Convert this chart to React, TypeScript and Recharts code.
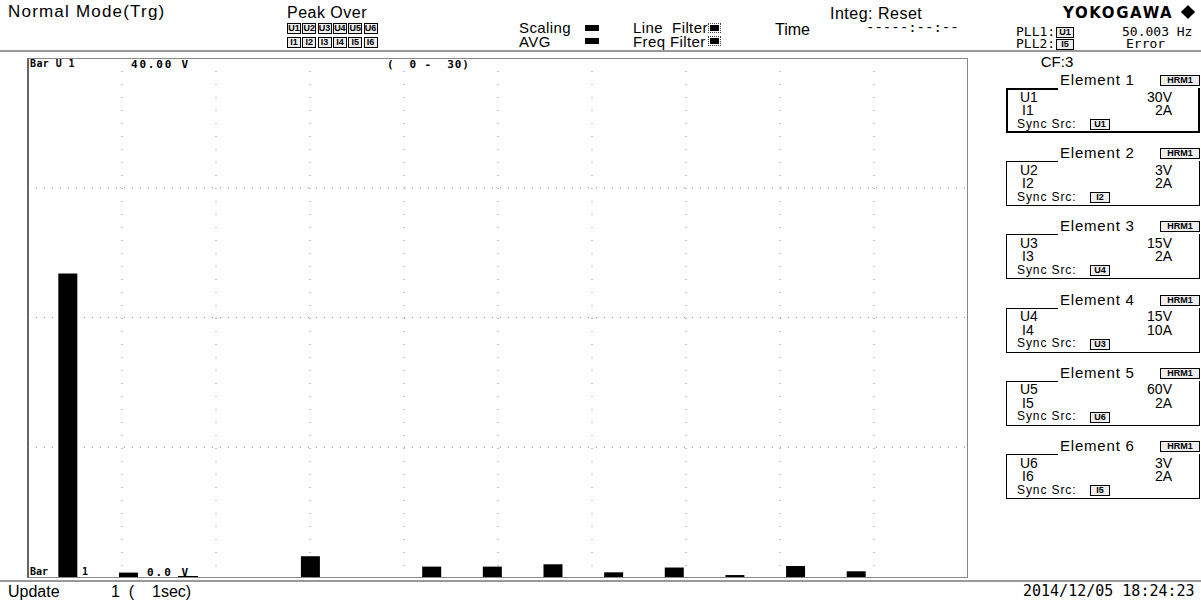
import React from 'react';
import { BarChart, Bar, XAxis, YAxis, CartesianGrid } from 'recharts';

// Harmonic orders shown (range 0 - 30)
const harmonicOrders = [0, 1, 2, 3, 4, 5, 6, 7, 8, 9, 10, 11, 12, 13, 14, 15, 16, 17, 18, 19, 20, 21, 22, 23, 24, 25, 26, 27, 28, 29, 30];
// U1 harmonic amplitude (V), full scale 40.00 V
const u1Values = [0, 23.4, 0, 0.34, 0, 0, 0, 0, 0, 1.6, 0, 0, 0, 0.8, 0, 0.8, 0, 0.98, 0, 0.36, 0, 0.73, 0, 0.15, 0, 0.85, 0, 0.44, 0, 0, 0];
const yDomain = [0, 40];
const yDivisions = [1, 2, 3];
const xDivisions = [1, 2, 3, 4, 5, 6, 7, 8, 9];

const elementNames = ['Element 1', 'Element 2', 'Element 3', 'Element 4', 'Element 5', 'Element 6'];
const voltageLabels = ['U1', 'U2', 'U3', 'U4', 'U5', 'U6'];
const currentLabels = ['I1', 'I2', 'I3', 'I4', 'I5', 'I6'];
const voltageRanges = ['30V', '3V', '15V', '15V', '60V', '3V'];
const currentRanges = ['2A', '2A', '2A', '10A', '2A', '2A'];
const syncSources = ['U1', 'I2', 'U4', 'U3', 'U6', 'I5'];

const data = harmonicOrders.map((o, i) => ({ order: o, u1: u1Values[i], pad: 0 }));

const SANS = '"Liberation Sans", Arial, sans-serif';
const MONO = '"DejaVu Sans Mono", "Liberation Mono", monospace';

type TP = { x: number; cy: number; size?: number; lh?: number; bold?: boolean; font?: string; ls?: number; center?: boolean; right?: boolean; children: React.ReactNode; style?: React.CSSProperties };
const T = ({ x, cy, size = 16, lh, bold, font = SANS, ls = 0, center, right, children, style }: TP) => {
  const l = lh ?? Math.round(size * 0.8);
  return (
    <div
      style={{
        position: 'absolute',
        left: center ? x - 200 : right ? x - 400 : x,
        width: center ? 400 : right ? 400 : undefined,
        textAlign: center ? 'center' : right ? 'right' : 'left',
        top: cy - l / 2,
        fontSize: size,
        lineHeight: `${l}px`,
        height: l,
        fontFamily: font,
        fontWeight: bold ? 'bold' : 'normal',
        letterSpacing: ls,
        whiteSpace: 'pre',
        color: '#000',
        ...style,
      }}
    >
      {children}
    </div>
  );
};

const Tag = ({ x, cy, label, w = 14 }: { x: number; cy: number; label: string; w?: number }) => (
  <div
    style={{
      position: 'absolute',
      left: x,
      top: cy - 5,
      width: w,
      height: 11,
      boxSizing: 'border-box',
      border: '1px solid #000',
      fontFamily: SANS,
      fontWeight: 'bold',
      fontSize: 9,
      lineHeight: '9px',
      textAlign: 'center',
      background: '#eee',
      color: '#000',
      overflow: 'hidden',
    }}
  >
    {label}
  </div>
);

const FilterMark = ({ x, cy }: { x: number; cy: number }) => (
  <div style={{ position: 'absolute', left: x, top: cy - 3, width: 9, height: 6, background: '#000', outline: '1px dotted #444', outlineOffset: 1 }} />
);

const ElementBlock = ({ i }: { i: number }) => {
  const cy = 80 + 73.2 * i;
  const top = cy + 8;
  const bw = i === 0 ? 2 : 1;
  return (
    <>
      <T x={1060} cy={cy} size={15} ls={0.8}>{elementNames[i]}</T>
      <Tag x={1160} cy={cy} label="HRM1" w={40} />
      <div style={{ position: 'absolute', left: 1006, top, width: 52, height: bw, background: '#000' }} />
      <div
        style={{
          position: 'absolute',
          left: 1006,
          top,
          width: 194,
          height: 45,
          boxSizing: 'border-box',
          borderLeft: `${bw}px solid #000`,
          borderRight: `${bw}px solid #000`,
          borderBottom: `${bw}px solid #000`,
        }}
      />
      <T x={1020} cy={top + 8.5} size={14} lh={10}>{voltageLabels[i]}</T>
      <T x={1172} cy={top + 8.5} size={14} lh={10} right>{voltageRanges[i]}</T>
      <T x={1022} cy={top + 22} size={14} lh={10}>{currentLabels[i]}</T>
      <T x={1172} cy={top + 22} size={14} lh={10} right>{currentRanges[i]}</T>
      <T x={1017} cy={top + 36} size={12} lh={9} ls={0.9}>Sync Src:</T>
      <Tag x={1090} cy={top + 36} label={syncSources[i]} w={20} />
    </>
  );
};

export default function App() {
  return (
    <div style={{ position: 'absolute', left: 0, top: 0, width: 1201, height: 603, background: '#fff', overflow: 'hidden' }}>
      {/* Header */}
      <T x={8} cy={12} size={17} ls={1.2}>Normal Mode(Trg)</T>
      <T x={327} cy={12} size={16} ls={0.5} center>Peak Over</T>
      {voltageLabels.map((l, i) => (
        <Tag key={l} x={287 + i * 15.3} cy={28} label={l} />
      ))}
      {currentLabels.map((l, i) => (
        <Tag key={l} x={287 + i * 15.3} cy={42} label={l} />
      ))}
      <T x={519} cy={27.5} size={15} lh={11} ls={0.4}>Scaling</T>
      <div style={{ position: 'absolute', left: 585, top: 25, width: 14, height: 6, background: '#000' }} />
      <T x={519} cy={41} size={15} lh={11} ls={0.4}>AVG</T>
      <div style={{ position: 'absolute', left: 585, top: 38, width: 14, height: 6, background: '#000' }} />
      <T x={633} cy={27.5} size={15} lh={11} ls={0.4}>Line  Filter</T>
      <FilterMark x={710} cy={28} />
      <T x={633} cy={41} size={15} lh={11} ls={0.4}>Freq Filter</T>
      <FilterMark x={710} cy={41} />
      <T x={775} cy={29} size={16}>Time</T>
      <T x={830} cy={13} size={16} ls={0.5}>Integ: Reset</T>
      <T x={866} cy={27} size={14} font={MONO}>-----:--:--</T>
      <T x={1063} cy={13} size={15} bold ls={1.6} font='"DejaVu Sans", sans-serif'>YOKOGAWA</T>
      <div style={{ position: 'absolute', left: 1183, top: 7, width: 10, height: 10, background: '#000', transform: 'rotate(45deg)' }} />
      <T x={1016} cy={32} size={13} lh={10} font={MONO}>PLL1:</T>
      <Tag x={1056} cy={32} label="U1" w={18} />
      <T x={1122} cy={32} size={13} lh={10} font={MONO}>50.003 Hz</T>
      <T x={1016} cy={44} size={13} lh={10} font={MONO}>PLL2:</T>
      <Tag x={1056} cy={44} label="I5" w={18} />
      <T x={1126} cy={44} size={13} lh={10} font={MONO}>Error</T>
      <div style={{ position: 'absolute', left: 0, top: 50, width: 1201, height: 2, background: '#999' }} />

      <T x={1057} cy={62} size={15} center>CF:3</T>

      {/* Chart frame */}
      <div style={{ position: 'absolute', left: 27, top: 58, width: 941, height: 520, boxSizing: 'border-box', border: '1px solid #888', borderLeft: '2px solid #666' }} />
      <div style={{ position: 'absolute', left: 28, top: 58 }}>
        <BarChart width={940} height={519} data={data} margin={{ top: 0, right: 0, bottom: 0, left: 0 }} barGap={0} barCategoryGap={0}>
          <XAxis dataKey="order" type="category" hide />
          <YAxis domain={yDomain} hide allowDataOverflow />
          <CartesianGrid
            horizontal={false}
            stroke="#8a8a8a"
            strokeDasharray="1 12"
            verticalCoordinatesGenerator={({ offset }: any) => xDivisions.map((d) => offset.left + (offset.width * d) / 10)}
          />
          <CartesianGrid
            vertical={false}
            stroke="#8a8a8a"
            strokeDasharray="1 7"
            horizontalCoordinatesGenerator={({ offset }: any) => yDivisions.map((d) => offset.top + (offset.height * d) / 4)}
          />
          <Bar dataKey="u1" fill="#000" barSize={19} isAnimationActive={false} />
          <Bar dataKey="pad" fill="none" barSize={11} isAnimationActive={false} />
        </BarChart>
      </div>
      <T x={30} cy={64} size={10} bold font={MONO} ls={0.4}>Bar U 1</T>
      <T x={131} cy={64} size={11} bold font={MONO} ls={1.8}>40.00 V</T>
      <T x={387} cy={64} size={11} bold font={MONO} ls={0.9}>(  0 -  30)</T>
      <T x={30} cy={572} size={10} bold font={MONO} style={{ background: '#fff' }}>Bar</T>
      <T x={82} cy={572} size={10} bold font={MONO}>1</T>
      <T x={147} cy={572} size={11} bold font={MONO} ls={2}>0.0 V</T>
      <div style={{ position: 'absolute', left: 178, top: 576, width: 20, height: 1, background: '#000' }} />

      {/* Right panel */}
      {elementNames.map((_, i) => (
        <ElementBlock key={i} i={i} />
      ))}

      {/* Footer */}
      <div style={{ position: 'absolute', left: 0, top: 580, width: 1201, height: 2, background: '#999' }} />
      <T x={8} cy={591} size={16}>Update</T>
      <T x={111} cy={591} size={16}>1  (</T>
      <T x={152} cy={591} size={16}>1sec)</T>
      <T x={1023} cy={591} size={15} font={MONO}>2014/12/05 18:24:23</T>
    </div>
  );
}
